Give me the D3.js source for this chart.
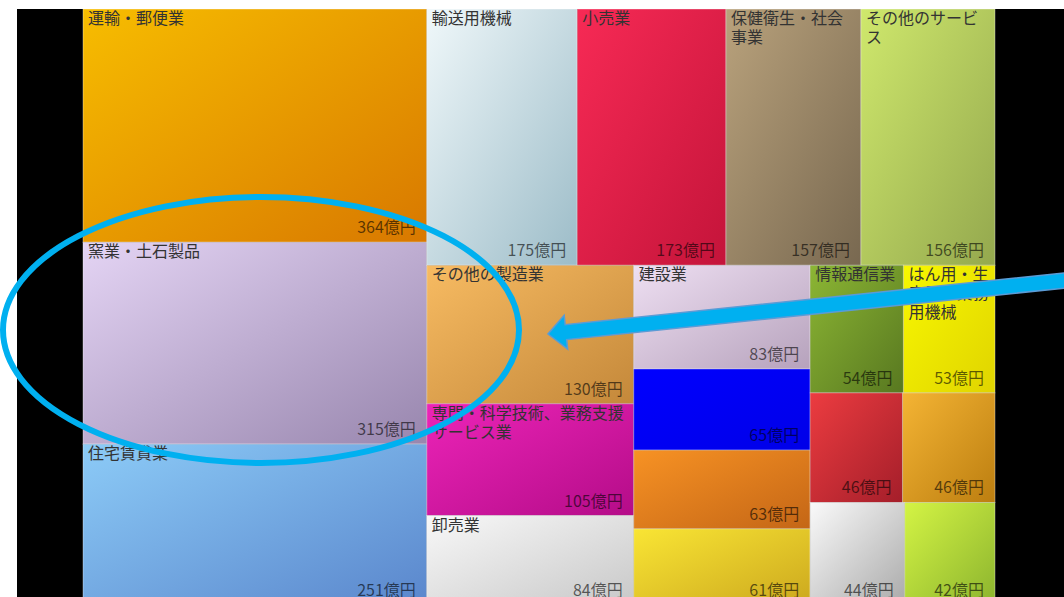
<!DOCTYPE html>
<html>
<head>
<meta charset="utf-8">
<script src="https://cdn.jsdelivr.net/npm/d3@7"></script>
<style>
  body { margin: 0; background: #fff; overflow: hidden; }
  text { font-family: "Noto Sans CJK JP", sans-serif; }
</style>
</head>
<body>
<div class="chart"></div>
<script>
// data (億円)
const names = ["運輸・郵便業", "窯業・土石製品", "住宅賃貸業", "輸送用機械", "小売業",
  "保健衛生・社会事業", "その他のサービス", "その他の製造業", "専門・科学技術、業務支援サービス業",
  "卸売業", "建設業", "", "", "", "情報通信業", "はん用・生産用・業務用機械", "", "", "", ""]
const values = [364, 315, 251, 175, 173, 157, 156, 130, 105, 84, 83, 65, 63, 61, 54, 53, 46, 46, 44, 42]
const lightColors = ["#f7bd00", "#e4d4f4", "#8ccbf7", "#f0f8fa", "#f72a55", "#b9a27c", "#cfe86c",
  "#f7bb62", "#ec24b8", "#f8f8f8", "#eedff2", "#0000ff", "#f79224", "#f9e534", "#8cb634", "#f8f800",
  "#ec3c40", "#f4b434", "#fafafa", "#d4f444"]
const darkColors = ["#d87800", "#9886ae", "#5a86cc", "#9cbcc8", "#c4143a", "#786850", "#94a84e",
  "#c4883a", "#b40c88", "#c8c8c8", "#b6a2bc", "#0000e8", "#c46616", "#cca81e", "#587820", "#e0d400",
  "#a41e2a", "#bc7e10", "#aaaaaa", "#8cb42e"]

const svgwidth = 1064
const svgheight = 597
const margin = ({top: 9, left: 83})
const width = 912
const height = 596   // runs a little past the bottom edge, like the screenshot

const svg = d3.select(".chart").append("svg")
  .attr("width", svgwidth)
  .attr("height", svgheight)

// backdrop
svg.append("rect").attr("x", 17).attr("y", 9)
  .attr("width", svgwidth - 17).attr("height", svgheight - 9)
  .attr("fill", "#000")

const data = names.map((n, i) => ({name: n, value: values[i], i: i}))
const root = d3.hierarchy({children: data}).sum(d => d.value || 0)
  .sort((a, b) => b.value - a.value)

d3.treemap()
  .size([width, height])
  .tile(d3.treemapSquarify)(root)

const defs = svg.append("defs")
data.forEach((d, i) => {
  const g = defs.append("linearGradient").attr("id", "grad" + i)
    .attr("x1", 0).attr("y1", 0).attr("x2", 1).attr("y2", 1)
  g.append("stop").attr("offset", "0%").attr("stop-color", lightColors[i])
  g.append("stop").attr("offset", "100%").attr("stop-color", darkColors[i])
})

const chart = svg.append("g")
  .attr("transform", "translate(" + margin.left + "," + margin.top + ")")

const cell = chart.selectAll("g.cell")
  .data(root.leaves())
  .enter()
  .append("g")
  .attr("class", "cell")
  .attr("transform", d => `translate(${d.x0},${d.y0})`)

cell.append("rect")
  .attr("width", d => d.x1 - d.x0)
  .attr("height", d => d.y1 - d.y0)
  .attr("fill", d => "url(#grad" + d.data.i + ")")
  .attr("stroke", "rgba(255,255,255,0.35)")
  .attr("stroke-width", 1)

// category name, wrapped by character
cell.each(function(d) {
  const w = d.x1 - d.x0
  const perLine = Math.max(1, Math.floor((w - 10) / 16))
  const chars = Array.from(d.data.name)
  const lines = []
  for (let k = 0; k < chars.length; k += perLine) lines.push(chars.slice(k, k + perLine).join(""))
  d3.select(this).append("text")
    .attr("fill", "#333")
    .attr("font-size", 16)
    .selectAll("tspan")
    .data(lines)
    .enter()
    .append("tspan")
    .attr("x", 5)
    .attr("y", (l, k) => 15 + k * 19)
    .text(l => l)
})

cell.append("text")
  .attr("x", d => d.x1 - d.x0 - 11)
  .attr("y", d => d.y1 - d.y0 - 9)
  .attr("text-anchor", "end")
  .attr("font-size", 16)
  .attr("fill", "rgba(0,0,0,0.6)")
  .text(d => d.data.value + "億円")

// annotations
svg.append("ellipse")
  .attr("cx", 261).attr("cy", 330)
  .attr("rx", 258).attr("ry", 133)
  .attr("fill", "none")
  .attr("stroke", "#00b0f0")
  .attr("stroke-width", 6)

// arrow: tail off the right edge, head pointing at その他の製造業
const tail = [1070, 280], tip = [548, 334]
const ang = Math.atan2(tip[1] - tail[1], tip[0] - tail[0])
const len = Math.hypot(tip[0] - tail[0], tip[1] - tail[1])
const shaftW = 7.5, headW = 17, headL = 18
const pts = [[0, -shaftW], [len - headL, -shaftW], [len - headL, -headW], [len, 0],
  [len - headL, headW], [len - headL, shaftW], [0, shaftW]]
svg.append("path")
  .attr("d", d3.line()(pts))
  .attr("transform", `translate(${tail[0]},${tail[1]}) rotate(${ang * 180 / Math.PI})`)
  .attr("fill", "#00b0f0")
  .attr("stroke", "#5b9bd5")
  .attr("stroke-width", 1.5)
</script>
</body>
</html>
